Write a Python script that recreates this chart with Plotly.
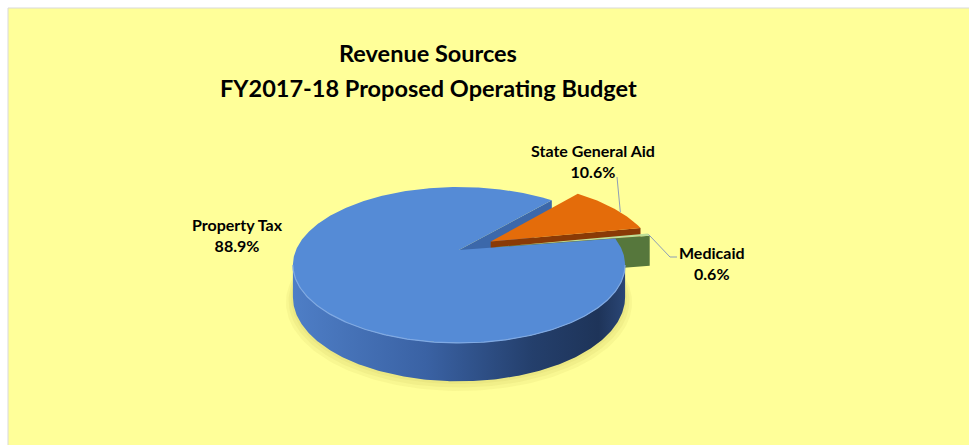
import math
import plotly.graph_objects as go

# Revenue shares (percent of the proposed operating budget)
categories = ["Property Tax", "State General Aid", "Medicaid"]
shares = [88.9, 10.6, 0.6]
top_colors = ["#558BD6", "#E46C0A", "#BEDF96"]
cut_colors = ["#3C68AA", "#8A3A06", "#56773C"]
exploded = [False, True, True]

# 3-D pie geometry (perspective projection of a tilted disc)
CX, CY = 459.0, 250.0      # screen position of the disc centre
A, B = 163.0, 75.1         # horizontal / vertical projection scale
K = 0.192                  # perspective strength
HD = 31.0                  # extrusion height
EXPLODE = 0.23             # radial offset of pulled-out slices
START = 81.0               # first slice angle, degrees clockwise from 12 o'clock


def proj(u, v, depth=0.0):
    s = 1.0 / (1.0 + K * v)
    return CX + A * u * s, CY - B * v * s + depth * HD * s


def rim(phi_deg, off, depth=0.0, r=1.0):
    p = math.radians(phi_deg)
    return proj(off[0] + r * math.sin(p), off[1] + r * math.cos(p), depth)


def arc(a0, a1, off, depth=0.0, n=None, r=1.0):
    n = n or max(4, int(abs(a1 - a0) * 1.5))
    return [rim(a0 + (a1 - a0) * i / n, off, depth, r) for i in range(n + 1)]


def poly(points, color):
    xs = [p[0] for p in points] + [points[0][0]]
    ys = [p[1] for p in points] + [points[0][1]]
    return go.Scatter(x=xs, y=ys, mode="lines", fill="toself", fillcolor=color,
                      line=dict(width=0, color=color), hoverinfo="skip",
                      showlegend=False)


total = sum(shares)
slices = []
a = START
for name, val, ex in zip(categories, shares, exploded):
    span = val / total * 360.0
    mid = math.radians(a + span / 2)
    off = (EXPLODE * math.sin(mid), EXPLODE * math.cos(mid)) if ex else (0.0, 0.0)
    slices.append(dict(name=name, val=val, a0=a, a1=a + span, off=off))
    a += span

pt, sga, med = slices
traces = []

# soft shadow under the disc
for r, d in [(1.04, 1.12), (1.025, 1.08), (1.01, 1.04)]:
    traces.append(poly(arc(0, 360, (0.0, 0.0), depth=d, n=240, r=r),
                       "rgba(150,140,40,0.07)"))

# cut face of the large slice next to the gap
apex0 = proj(*pt["off"])
apex1 = proj(pt["off"][0], pt["off"][1], 1.0)
e = pt["a1"]
traces.append(poly([apex0, rim(e, pt["off"]), rim(e, pt["off"], 1.0), apex1], cut_colors[0]))

# State General Aid: visible cut face, then top
o = sga["off"]
traces.append(poly([proj(*o), rim(sga["a1"], o), rim(sga["a1"], o, 1.0),
                    proj(o[0], o[1], 1.0)], cut_colors[1]))
traces.append(poly([proj(*o)] + arc(sga["a0"], sga["a1"], o), top_colors[1]))

# Medicaid: visible cut face, then top
o = med["off"]
traces.append(poly([proj(*o), rim(med["a1"], o), rim(med["a1"], o, 1.0),
                    proj(o[0], o[1], 1.0)], cut_colors[2]))
traces.append(poly([proj(*o)] + arc(med["a0"], med["a1"], o, n=6), top_colors[2]))

# Property Tax: front wall (between the silhouette points) and top face
sil0 = math.degrees(math.acos(-K))
sil1 = 360.0 - sil0
o = pt["off"]
w0, w1 = max(pt["a0"], sil0), min(pt["a1"], sil1)
wall = arc(w0, w1, o) + arc(w1, w0, o, 1.0)
traces.append(go.Scatter(
    x=[p[0] for p in wall] + [wall[0][0]], y=[p[1] for p in wall] + [wall[0][1]],
    mode="lines", fill="toself", line=dict(width=0), hoverinfo="skip", showlegend=False,
    fillgradient=dict(type="horizontal",
                      colorscale=[[0, "#4E7EC6"], [0.4, "#3A62A4"], [0.72, "#243F6C"],
                                  [0.92, "#1E3459"], [1, "#2A4675"]])))
traces.append(poly([proj(*o)] + arc(pt["a0"], pt["a1"], o, n=480), top_colors[0]))

# light bevel along the front edge of the top face
edge = arc(w0, w1, o, n=200)
traces.append(go.Scatter(x=[p[0] for p in edge], y=[p[1] for p in edge], mode="lines",
                         line=dict(color="#7FA9E4", width=1.2), hoverinfo="skip",
                         showlegend=False))

fig = go.Figure(traces)

# Chart area background
fig.add_shape(type="rect", xref="x", yref="y", x0=8, y0=8, x1=975, y1=450,
              fillcolor="#FFFF99", line=dict(color="#D9D9D9", width=1), layer="below")

# Data labels with leader lines
font_lbl = dict(family="Lato", size=16, color="#000000")
label_pos = {"Property Tax": (237, 235), "State General Aid": (593, 161), "Medicaid": (712, 263)}
for s in slices:
    x, y = label_pos[s["name"]]
    fig.add_annotation(x=x, y=y, text=f"<b>{s['name']}<br>{s['val']:.1f}%</b>",
                       showarrow=False, font=font_lbl, xanchor="center", yanchor="middle")

lead = "#8C9DB8"
mx, my = rim((sga["a0"] + sga["a1"]) / 2 + 4, sga["off"])
fig.add_shape(type="line", x0=617, y0=177, x1=mx, y1=my, line=dict(color=lead, width=1))
mx, my = rim((med["a0"] + med["a1"]) / 2, med["off"])
fig.add_shape(type="path", path=f"M {mx},{my} L 670,257 L 677,257",
              line=dict(color=lead, width=1))

# Title
font_t = dict(family="Lato", size=23.5, color="#000000")
fig.add_annotation(x=428, y=53, text="<b>Revenue Sources</b>", showarrow=False, font=font_t)
fig.add_annotation(x=428, y=88, text="<b>FY2017-18 Proposed Operating Budget</b>",
                   showarrow=False, font=font_t)

fig.update_layout(
    width=969, height=445, margin=dict(l=0, r=0, t=0, b=0),
    paper_bgcolor="#FFFFFF", plot_bgcolor="#FFFFFF",
    xaxis=dict(range=[0, 969], visible=False, fixedrange=True),
    yaxis=dict(range=[445, 0], visible=False, fixedrange=True),
)

fig.write_html("out.html")
